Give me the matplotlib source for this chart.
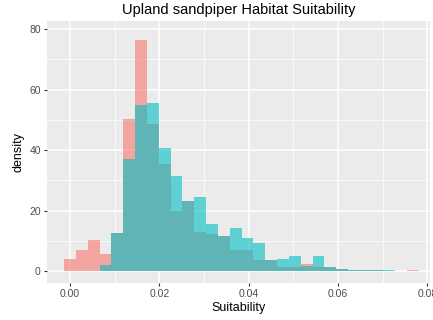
import numpy as np
import matplotlib.pyplot as plt

plt.rcParams['font.family'] = ['Liberation Sans', 'DejaVu Sans']

# histogram bins (density), bin width ~0.00265, centred on multiples of it
bin_width = 0.00265
bin_centers = [0.0, 0.00265, 0.0053, 0.00795, 0.0106, 0.01325, 0.0159, 0.01855,
               0.0212, 0.02385, 0.0265, 0.02915, 0.0318, 0.03445, 0.0371, 0.03975,
               0.0424, 0.04505, 0.0477, 0.05035, 0.053, 0.05565, 0.0583, 0.06095,
               0.0636, 0.06625, 0.0689, 0.07155, 0.0742, 0.07685]
red_density = [4.0, 7.1, 10.2, 5.7, 12.7, 50.3, 76.5, 48.5, 35.4, 19.9,
               23.2, 12.8, 12.4, 11.5, 6.9, 6.9, 3.8, 3.8, 1.3, 1.3,
               2.4, 1.3, 1.3, 0.8, 0.3, 0.3, 0.3, 0.0, 0.0, 0.2]
cyan_density = [0.0, 0.0, 0.0, 1.9, 12.7, 37.2, 54.9, 55.7, 40.6, 31.5,
                23.2, 24.5, 15.5, 11.5, 14.1, 11.0, 9.3, 3.8, 4.0, 4.9,
                1.5, 4.9, 1.3, 0.8, 0.3, 0.3, 0.3, 0.3, 0.0, 0.0]

x_ticks = [0.00, 0.02, 0.04, 0.06, 0.08]
x_ticklabels = ['0.00', '0.02', '0.04', '0.06', '0.08']
y_ticks = [0, 20, 40, 60, 80]

fig = plt.figure(figsize=(4.33, 3.2), dpi=100)
ax = fig.add_axes([47 / 433, 1 - 283 / 320, (430 - 47) / 433, (283 - 21) / 320])
ax.set_facecolor('#EBEBEB')

ax.bar(bin_centers, red_density, width=bin_width, color='#F8766D', alpha=0.6,
       linewidth=0, zorder=3)
ax.bar(bin_centers, cyan_density, width=bin_width, color='#00BFC4', alpha=0.6,
       linewidth=0, zorder=4)

ax.set_xticks(x_ticks)
ax.set_xticklabels(x_ticklabels)
ax.set_yticks(y_ticks)
ax.set_xticks([0.01, 0.03, 0.05, 0.07], minor=True)
ax.set_yticks([10, 30, 50, 70], minor=True)
ax.set_xlim(-0.00515, 0.0806)
ax.set_ylim(-3.97, 82.7)

ax.grid(True, which='major', color='white', linewidth=1.1, zorder=0)
ax.grid(True, which='minor', color='white', linewidth=0.5, zorder=0)
ax.set_axisbelow(True)
for s in ax.spines.values():
    s.set_visible(False)

ax.tick_params(which='major', length=2.5, width=0.8, color='#333333',
               labelsize=7.5, labelcolor='#4D4D4D', pad=2)
ax.tick_params(which='minor', length=0)

ax.set_xlabel('Suitability', fontsize=9, labelpad=2)
ax.set_ylabel('density', fontsize=9, labelpad=3)
ax.set_title('Upland sandpiper Habitat Suitability', fontsize=10.5, pad=5)

fig.savefig('out.png', dpi=100)
